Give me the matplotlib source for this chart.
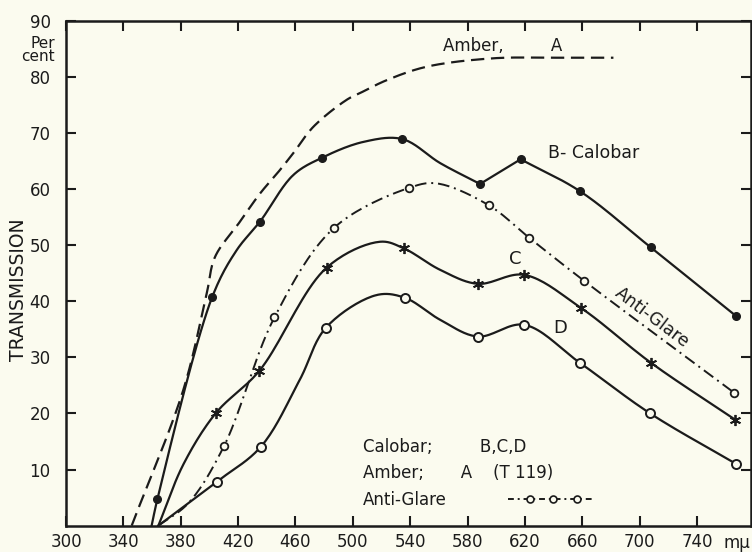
import numpy as np
import matplotlib
matplotlib.use("Agg")
import matplotlib.pyplot as plt
from matplotlib.lines import Line2D
from matplotlib.legend_handler import HandlerLine2D

# wavelength (m-mu) / transmission (percent)
# B - Calobar (filled dots)
b_x = [363.7, 402.0, 435.3, 478.7, 534.5, 588.7, 617.0, 658.4, 707.7, 767.0]
b_y = [4.7, 40.8, 54.2, 65.6, 68.9, 60.9, 65.3, 59.6, 49.6, 37.4]
b_bend_x = [359.7, 419.0, 458.5, 507.4, 561.0]
b_bend_y = [0.0, 49.1, 62.5, 68.4, 64.6]

# Anti-Glare (open circles, dash-dot)
ag_x = [410.2, 445.3, 487.0, 539.2, 594.8, 623.0, 661.4, 765.8]
ag_y = [14.2, 37.1, 53.1, 60.2, 57.1, 51.3, 43.6, 23.7]
ag_bend_x = [364.4, 385.3, 558.4]
ag_bend_y = [0.0, 4.0, 61.0]

# C (stars)
c_x = [404.6, 434.8, 481.8, 535.7, 587.1, 619.4, 659.1, 708.0, 766.5]
c_y = [20.1, 27.6, 46.0, 49.4, 43.1, 44.7, 38.8, 29.0, 18.9]
c_bend_x = [364.4, 382.0, 519.0, 560.8]
c_bend_y = [0.0, 11.0, 50.6, 45.6]

# D (open circles)
d_x = [405.0, 436.0, 481.3, 536.4, 587.1, 619.4, 658.4, 707.3, 767.2]
d_y = [7.8, 14.1, 35.3, 40.6, 33.7, 35.8, 29.0, 20.0, 11.0]
d_bend_x = [364.4, 463.0, 516.6, 560.8]
d_bend_y = [0.0, 26.0, 41.1, 36.7]

# Amber, A (dashed, no markers)
amber_x = [345.8, 381.8, 398.1, 403.9, 420.5, 435.3, 449.2, 458.5, 472.5,
           495.7, 505.0, 523.6, 551.5, 598.0, 640.0, 681.7]
amber_y = [0.0, 24.2, 41.4, 47.9, 53.9, 59.2, 63.4, 66.4, 71.1,
           75.9, 77.1, 79.4, 81.8, 83.3, 83.4, 83.4]

x_ticks = [300, 340, 380, 420, 460, 500, 540, 580, 620, 660, 700, 740]
y_ticks = [10, 20, 30, 40, 50, 60, 70, 80, 90]

ink = "#1b1b1b"
bg = "#fbfbef"


def centripetal(xs, ys, n=20):
    p = np.column_stack([xs, ys]).astype(float)
    p = np.vstack([2 * p[0] - p[1], p, 2 * p[-1] - p[-2]])
    scale = np.array([1.43, 5.6])
    out = []
    for i in range(1, len(p) - 2):
        P = p[i - 1:i + 3]
        d = np.hypot(*(np.diff(P, axis=0) * scale).T)
        t = np.concatenate([[0], np.cumsum(np.sqrt(np.maximum(d, 1e-9)))])
        tt = np.linspace(t[1], t[2], n, endpoint=False)[:, None]
        A1 = (t[1] - tt) / (t[1] - t[0]) * P[0] + (tt - t[0]) / (t[1] - t[0]) * P[1]
        A2 = (t[2] - tt) / (t[2] - t[1]) * P[1] + (tt - t[1]) / (t[2] - t[1]) * P[2]
        A3 = (t[3] - tt) / (t[3] - t[2]) * P[2] + (tt - t[2]) / (t[3] - t[2]) * P[3]
        B1 = (t[2] - tt) / (t[2] - t[0]) * A1 + (tt - t[0]) / (t[2] - t[0]) * A2
        B2 = (t[3] - tt) / (t[3] - t[1]) * A2 + (tt - t[1]) / (t[3] - t[1]) * A3
        out.append((t[2] - tt) / (t[2] - t[1]) * B1 + (tt - t[1]) / (t[2] - t[1]) * B2)
    out.append(p[-2][None])
    return np.vstack(out).T


def curve(xs, ys, corners=()):
    xs, ys = np.asarray(xs), np.asarray(ys)
    cut = [0] + [int(np.argmin(abs(xs - c))) for c in corners] + [len(xs) - 1]
    px, py = [], []
    for a, b in zip(cut[:-1], cut[1:]):
        sx, sy = centripetal(xs[a:b + 1], ys[a:b + 1])
        px.append(sx)
        py.append(sy)
    return np.concatenate(px), np.concatenate(py)


def path(mx, my, bx, by):
    x = np.concatenate([mx, bx])
    y = np.concatenate([my, by])
    o = np.argsort(x)
    return x[o], y[o]


class KeyHandler(HandlerLine2D):
    # full-width line, three circles set inside it
    def create_artists(self, legend, orig_handle, xdescent, ydescent,
                       width, height, fontsize, trans):
        arts = super().create_artists(legend, orig_handle, xdescent, ydescent,
                                      width, height, fontsize, trans)
        line = arts[0]
        xs = -xdescent + width * np.array([0, 0.26, 0.54, 0.82, 1.0])
        line.set_data(xs, np.full(5, (height - ydescent) / 2))
        line.set_markevery([1, 2, 3])
        return arts


plt.rcParams["font.family"] = "DejaVu Sans"
fig = plt.figure(figsize=(7.52, 5.52), dpi=100, facecolor=bg)
ax = fig.add_axes([0.0878, 0.0478, 0.911, 0.9147], facecolor=bg)

# Amber
ax.plot(*curve(amber_x, amber_y), color=ink, lw=1.6, ls=(0, (6, 3)))

# B - Calobar
ax.plot(*curve(*path(b_x, b_y, b_bend_x, b_bend_y), corners=(588.7, 617.0)),
        color=ink, lw=1.6)
ax.plot(b_x, b_y, "o", ms=5.5, color=ink)

# Anti-Glare
ax.plot(*curve(*path(ag_x, ag_y, ag_bend_x, ag_bend_y)), color=ink, lw=1.4,
        ls=(0, (6, 2.5, 1, 2.5)))
ax.plot(ag_x, ag_y, "o", ms=5.5, mfc=bg, mec=ink, mew=1.3)

# C
ax.plot(*curve(*path(c_x, c_y, c_bend_x, c_bend_y)), color=ink, lw=1.6)
ax.plot(c_x, c_y, ls="none", marker=(6, 2, 0), ms=8, mec=ink, mew=1.3)

# D
ax.plot(*curve(*path(d_x, d_y, d_bend_x, d_bend_y)), color=ink, lw=1.6)
ax.plot(d_x, d_y, "o", ms=6.5, mfc=bg, mec=ink, mew=1.4)

# curve labels
ax.text(563, 85.5, "Amber,         A", fontsize=12, color=ink, va="center")
ax.text(636, 66.4, "B- Calobar", fontsize=12.5, color=ink, va="center")
ax.text(613, 47.5, "C", fontsize=13, color=ink, ha="center", va="center")
ax.text(644.5, 35.2, "D", fontsize=13, color=ink, ha="center", va="center")
ax.text(709, 37.1, "Anti-Glare", fontsize=12.5, color=ink, ha="center",
        va="center", rotation=-37, rotation_mode="anchor")

# key in lower middle
ax.text(506.9, 14.1, "Calobar;         B,C,D", fontsize=12, color=ink,
        va="center")
ax.text(506.9, 9.3, "Amber;       A    (T 119)", fontsize=12, color=ink,
        va="center")
ax.text(506.9, 4.6, "Anti-Glare", fontsize=12, color=ink, va="center")
ag_key = Line2D([], [], color=ink, lw=1.4, ls=(0, (3, 2, 1, 2)), marker="o",
                ms=5, mfc=bg, mec=ink, mew=1.2)
ax.legend([ag_key], [""], handler_map={ag_key: KeyHandler()},
          loc="center left", bbox_to_anchor=(0.645, 0.0507), frameon=False,
          handlelength=5.04, handletextpad=0, borderpad=0, borderaxespad=0,
          fontsize=12)

ax.set_xlim(300, 777.7)
ax.set_ylim(0, 90)
ax.set_xticks(x_ticks)
ax.set_yticks(y_ticks)
ax.tick_params(direction="in", top=True, right=True, length=7, width=1.5,
               color=ink, labelsize=12, labelcolor=ink, pad=5)
ax.tick_params(axis="y", pad=11)
for s in ax.spines.values():
    s.set_linewidth(1.8)
    s.set_color(ink)

ax.text(768, -0.0345, "m\u03bc", transform=ax.get_xaxis_transform(),
        fontsize=12, color=ink, ha="center", va="center")
ax.text(-0.016, 0.942, "Per\ncent", transform=ax.transAxes, fontsize=11,
        color=ink, ha="right", va="center", linespacing=0.9)
fig.text(0.024, 0.475, "TRANSMISSION", rotation=90, fontsize=13.5, color=ink,
         ha="center", va="center")

plt.savefig("out.png", dpi=100, facecolor=bg)
